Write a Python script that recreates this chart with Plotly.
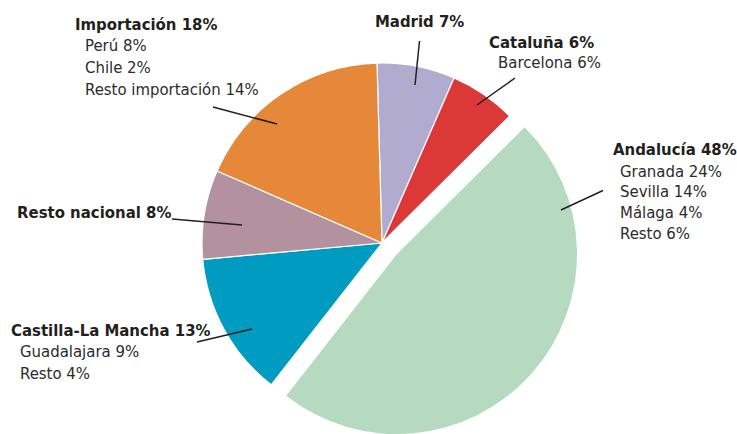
import plotly.graph_objects as go

W, H = 737, 434

# ---- data ----
regions = ["Madrid", "Cataluña", "Andalucía", "Castilla-La Mancha", "Resto nacional", "Importación"]
shares = [7, 6, 48, 13, 8, 18]
details = [
    [],
    ["Barcelona 6%"],
    ["Granada 24%", "Sevilla 14%", "Málaga 4%", "Resto 6%"],
    ["Guadalajara 9%", "Resto 4%"],
    [],
    ["Perú 8%", "Chile 2%", "Resto importación 14%"],
]

# ---- style ----
colors = ["#b1abcf", "#dc3838", "#b6dabf", "#009bc1", "#b3919f", "#e6883a"]
pulled = 2  # Andalucía
R = 180
c_main = (382, 243)
c_pull = (397, 254)
FONT = "DejaVu Sans Condensed, sans-serif"
TXT = "#231f20"
FS = 16.6

def dom(c):
    cx, cy = c
    return dict(x=[(cx - R) / W, (cx + R) / W], y=[(H - cy - R) / H, (H - cy + R) / H])

fig = go.Figure()
fig.add_trace(go.Pie(
    labels=regions, values=shares, sort=False, direction="clockwise", rotation=-1.6,
    marker=dict(colors=[("rgba(0,0,0,0)" if i == pulled else col) for i, col in enumerate(colors)],
                line=dict(color="white", width=1.2)),
    textinfo="none", hoverinfo="none", showlegend=False, domain=dom(c_main),
))
fig.add_trace(go.Pie(
    labels=regions, values=shares, sort=False, direction="clockwise", rotation=-1.6,
    marker=dict(colors=[(col if i == pulled else "rgba(0,0,0,0)") for i, col in enumerate(colors)],
                line=dict(color="rgba(0,0,0,0)", width=0)),
    textinfo="none", hoverinfo="none", showlegend=False, domain=dom(c_pull),
))

# label placement: (title x, title cap-middle y, detail x, first detail y, line step)
label_pos = [
    (373, 21.7, None, None, 0),
    (487, 42.7, 496, 62.5, 21.2),
    (610.5, 149.7, 618, 171, 20.8),
    (9, 330.5, 18, 351.7, 21.6),
    (15, 212, None, None, 0),
    (73, 24.5, 83, 46, 21.7),
]
leaders = [
    ((419.5, 41), (415, 85)),
    ((515, 78), (477, 105)),
    ((603, 190.5), (561, 210)),
    ((197, 342), (252, 329)),
    ((172, 219), (242, 225)),
    ((213, 107), (277, 124)),
]

for i, name in enumerate(regions):
    tx, ty, dx, dy, step = label_pos[i]
    fig.add_annotation(x=tx / W, y=1 - ty / H, xref="paper", yref="paper",
                       text=f"<b>{name} {shares[i]}%</b>", showarrow=False,
                       xanchor="left", yanchor="middle",
                       font=dict(family=FONT, size=FS, color=TXT))
    for k, d in enumerate(details[i]):
        fig.add_annotation(x=dx / W, y=1 - (dy + k * step) / H, xref="paper", yref="paper",
                           text=d, showarrow=False, xanchor="left", yanchor="middle",
                           font=dict(family=FONT, size=FS, color="#2b2b2b"))
    (x0, y0), (x1, y1) = leaders[i]
    fig.add_shape(type="line", xref="paper", yref="paper",
                  x0=x0 / W, y0=1 - y0 / H, x1=x1 / W, y1=1 - y1 / H,
                  line=dict(color="#231f20", width=1.5))

fig.update_layout(width=W, height=H, autosize=False,
                  margin=dict(l=0, r=0, t=0, b=0),
                  paper_bgcolor="white", plot_bgcolor="white")

fig.write_html("out.html")
